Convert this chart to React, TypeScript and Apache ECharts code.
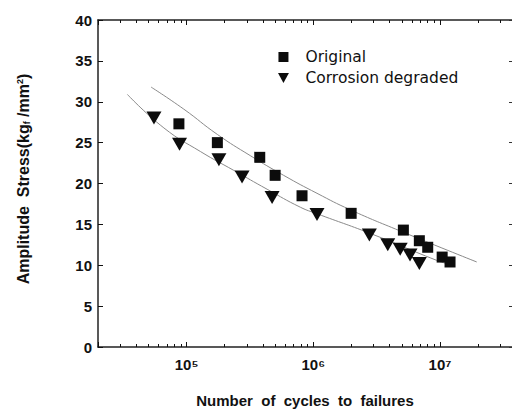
import React, { useEffect, useRef } from "react";
import * as echarts from "echarts";

// Measured points (number of cycles N, amplitude stress S)
const originalCycles = [8.7e4, 1.75e5, 3.78e5, 5.0e5, 8.15e5, 1.99e6, 5.14e6, 6.87e6, 8.0e6, 1.04e7, 1.2e7];
const originalStress = [27.3, 25.0, 23.2, 21.0, 18.5, 16.35, 14.3, 13.0, 12.2, 11.0, 10.4];
const degradedCycles = [5.53e4, 8.8e4, 1.8e5, 2.74e5, 4.73e5, 1.07e6, 2.77e6, 3.87e6, 4.85e6, 5.8e6, 6.87e6];
const degradedStress = [28.0, 24.8, 22.9, 20.8, 18.3, 16.2, 13.7, 12.5, 11.95, 11.25, 10.2];

// Fitted curves
const originalFitCycles = [5.24e4, 9.5e4, 1.75e5, 3.19e5, 5.83e5, 1.07e6, 1.95e6, 4.84e6, 1.95e7];
const originalFitStress = [31.8, 29.1, 26.0, 23.4, 21.0, 18.8, 16.8, 14.2, 10.4];
const degradedFitCycles = [3.41e4, 6.62e4, 1.29e5, 2.36e5, 4.32e5, 7.9e5, 1.07e6, 2.81e6, 9.42e6, 1.2e7];
const degradedFitStress = [30.9, 26.8, 23.9, 21.6, 19.3, 17.1, 16.3, 13.9, 10.6, 10.1];

// Tick labels of the log axis
const xTickLabels: Record<number, string> = { 5: "10\u2075", 6: "10\u2076", 7: "10\u2077" };

const seriesNames = ["Original", "Corrosion degraded"];
const xTitle = "Number  of  cycles  to  failures";
const yTitle = "Amplitude  Stress(kg{sub|f} /mm{sup|2})";
const yTicks = { min: 0, max: 40, interval: 5 };
const xRange = { min: 2e4, max: 3.7e7 };

const zip = (a: number[], b: number[]) => a.map((v, i) => [v, b[i]]);

const FONT = "'Liberation Sans', Arial, sans-serif";
const INK = "#111";
const GRID = { left: 98, top: 20, width: 414, height: 327, outerBoundsMode: "none" };

const xLabelFormatter = (v: number) => {
  const e = Math.log10(v);
  const r = Math.round(e);
  if (Math.abs(e - r) > 1e-6 || !xTickLabels[r]) return " ";
  return xTickLabels[r];
};

// Main chart: frame, ticks, labels, markers, legend
function mainOption() {
  return {
    animation: false,
    grid: GRID,
    legend: {
      orient: "vertical",
      left: 273,
      top: 44,
      itemWidth: 34,
      itemHeight: 10,
      itemGap: 5,
      selectedMode: false,
      textStyle: { fontFamily: "'DejaVu Sans', sans-serif", fontSize: 15.5, color: INK },
      data: [
        { name: seriesNames[0], icon: "path://M0,0L10,0L10,10L0,10Z" },
        { name: seriesNames[1], icon: "path://M0,0L12,0L6,11Z" },
      ],
    },
    xAxis: [
      {
        type: "log",
        min: xRange.min,
        max: xRange.max,
        position: "bottom",
        splitLine: { show: false },
        axisLine: { show: true, onZero: false, lineStyle: { color: "#222", width: 1.5 } },
        axisTick: { show: true, inside: true, length: 5, lineStyle: { color: INK, width: 1 } },
        minorTick: { show: true, splitNumber: 9, length: 3, lineStyle: { color: INK, width: 1 } },
        name: xTitle,
        nameLocation: "middle",
        nameGap: 46,
        nameTextStyle: { fontFamily: FONT, fontWeight: "bold", fontSize: 15, color: INK },
        axisLabel: {
          show: true,
          margin: 10,
          formatter: xLabelFormatter,
          fontFamily: FONT,
          fontWeight: "bold",
          fontSize: 15,
          color: INK,
        },
      },
      {
        type: "log",
        min: xRange.min,
        max: xRange.max,
        position: "top",
        splitLine: { show: false },
        axisLine: { show: true, onZero: false, lineStyle: { color: "#222", width: 1.5 } },
        axisTick: { show: true, inside: true, length: 5, lineStyle: { color: INK, width: 1 } },
        minorTick: { show: true, splitNumber: 9, length: 3, lineStyle: { color: INK, width: 1 } },
        axisLabel: { show: false },
      },
    ],
    yAxis: [
      {
        type: "value",
        min: yTicks.min,
        max: yTicks.max,
        interval: yTicks.interval,
        position: "left",
        splitLine: { show: false },
        axisLine: { show: true, onZero: false, lineStyle: { color: "#222", width: 1.5 } },
        axisTick: { show: true, inside: true, length: 5, lineStyle: { color: INK, width: 1 } },
        axisLabel: { show: true, margin: 6, fontFamily: FONT, fontWeight: "bold", fontSize: 15, color: INK },
      },
      {
        type: "value",
        min: yTicks.min,
        max: yTicks.max,
        interval: yTicks.interval,
        position: "right",
        splitLine: { show: false },
        axisLine: { show: false, onZero: false },
        axisTick: { show: true, inside: true, length: 3, lineStyle: { color: "#333", width: 1 } },
        axisLabel: { show: false },
      },
    ],
    graphic: [
      {
        type: "text",
        x: 23,
        y: 179,
        rotation: Math.PI / 2,
        style: {
          text: yTitle,
          fontFamily: FONT,
          fontWeight: "bold",
          fontSize: 16,
          fill: INK,
          align: "center",
          verticalAlign: "middle",
          rich: {
            sub: { fontFamily: FONT, fontWeight: "bold", fontSize: 9, fill: INK, lineHeight: 9, verticalAlign: "bottom" },
            sup: { fontFamily: FONT, fontWeight: "bold", fontSize: 9, fill: INK, lineHeight: 9, verticalAlign: "top" },
          },
        },
      },
    ],
    series: [
      {
        name: seriesNames[0],
        type: "scatter",
        symbol: "rect",
        symbolSize: 11,
        itemStyle: { color: "#0c0c0c", opacity: 1 },
        data: zip(originalCycles, originalStress),
      },
      {
        name: seriesNames[1],
        type: "scatter",
        symbol: "triangle",
        symbolRotate: 180,
        symbolSize: [15, 13],
        itemStyle: { color: "#0c0c0c", opacity: 1 },
        data: zip(degradedCycles, degradedStress),
      },
    ],
  };
}

// Underlay chart: the two fitted curves on identical (hidden) axes
function curveOption() {
  const hiddenX = {
    type: "log",
    min: xRange.min,
    max: xRange.max,
    axisLine: { show: false },
    axisTick: { show: false },
    axisLabel: { show: false },
    splitLine: { show: false },
  };
  const hiddenY = {
    type: "value",
    min: yTicks.min,
    max: yTicks.max,
    interval: yTicks.interval,
    axisLine: { show: false },
    axisTick: { show: false },
    axisLabel: { show: false },
    splitLine: { show: false },
  };
  return {
    animation: false,
    grid: GRID,
    xAxis: hiddenX,
    yAxis: hiddenY,
    series: [
      {
        name: "Original fit",
        type: "line",
        smooth: true,
        symbol: "none",
        silent: true,
        lineStyle: { color: "#8a8a8a", width: 1 },
        data: zip(originalFitCycles, originalFitStress),
      },
      {
        name: "Corrosion degraded fit",
        type: "line",
        smooth: true,
        symbol: "none",
        silent: true,
        lineStyle: { color: "#8a8a8a", width: 1 },
        data: zip(degradedFitCycles, degradedFitStress),
      },
    ],
  };
}

export default function App() {
  const mainRef = useRef<HTMLDivElement>(null);
  const curveRef = useRef<HTMLDivElement>(null);

  useEffect(() => {
    document.body.style.margin = "0";
    if (!mainRef.current || !curveRef.current) return;
    const curves = echarts.init(curveRef.current, undefined, { renderer: "svg" });
    curves.setOption(curveOption());
    const main = echarts.init(mainRef.current, undefined, { renderer: "svg" });
    main.setOption(mainOption());
    return () => {
      main.dispose();
      curves.dispose();
    };
  }, []);

  const layer: React.CSSProperties = { position: "absolute", left: 0, top: 0, width: 512, height: 411 };
  return (
    <div style={{ position: "relative", width: 512, height: 411, background: "#fff" }}>
      <div ref={curveRef} style={layer} />
      <div ref={mainRef} style={layer} />
    </div>
  );
}
